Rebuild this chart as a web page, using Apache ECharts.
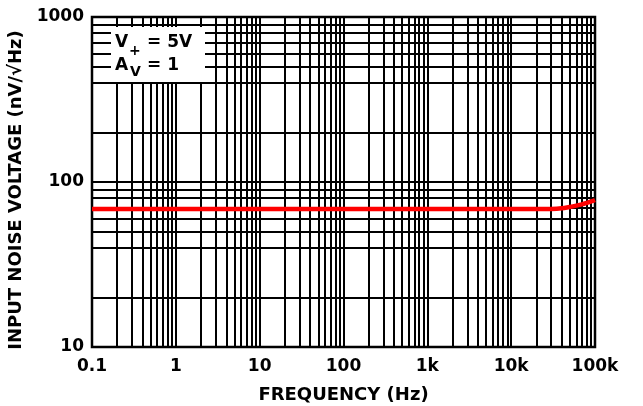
<!DOCTYPE html>
<html>
<head>
<meta charset="utf-8">
<script src="https://cdn.jsdelivr.net/npm/echarts@6/dist/echarts.min.js"></script>
<style>
html,body{margin:0;padding:0;background:#fff;}
#chart{width:643px;height:406px;}
</style>
</head>
<body>
<div id="chart"></div>
<script>
// ---- data ----
var frequencyHz = [0.1, 1, 10, 100, 1000, 10000, 20000, 30000, 40000, 50000, 60000, 70000, 80000, 90000, 100000];
var noiseNvRtHz = [68.5, 68.5, 68.5, 68.6, 68.6, 68.6, 68.6, 68.7, 69.3, 70.6, 71.9, 73.2, 74.7, 76.2, 77.8];

var xTickValues = [0.1, 1, 10, 100, 1000, 10000, 100000];
var xTickLabels = ['0.1', '1', '10', '100', '1k', '10k', '100k'];
var yTickValues = [10, 100, 1000];
var yTickLabels = ['10', '100', '1000'];

var xMinorGrid = [0.2,0.3,0.4,0.5,0.6,0.7,0.8,0.9,
                  2,3,4,5,6,7,8,9,
                  20,30,40,50,60,70,80,90,
                  200,300,400,500,600,700,800,900,
                  2000,3000,4000,5000,6000,7000,8000,9000,
                  20000,30000,40000,50000,60000,70000,80000,90000];
var yMinorGrid = [20,40,50,60,70,80,90,200,400,500,600,700,800,900];

var xAxisTitle = 'FREQUENCY (Hz)';
var yAxisTitle = 'INPUT NOISE VOLTAGE (nV/\u221AHz)';

// ---- chart ----
function lookup(vals, labels, v) {
  for (var i = 0; i < vals.length; i++) {
    if (Math.abs(Math.log10(v) - Math.log10(vals[i])) < 1e-6) return labels[i];
  }
  return '';
}
var FONT = 'DejaVu Sans';
var gridLine = {color: '#000', width: 2, type: 'solid'};
var markData = [];
xMinorGrid.forEach(function (v) { markData.push({xAxis: v}); });
yMinorGrid.forEach(function (v) { markData.push({yAxis: v}); });

var chart = echarts.init(document.getElementById('chart'), null, {renderer: 'canvas'});
chart.setOption({
  animation: false,
  backgroundColor: '#fff',
  grid: {left: 92, right: 48, top: 17, bottom: 59, containLabel: false, outerBoundsMode: 'none',
         show: true, borderColor: '#000', borderWidth: 2.5, backgroundColor: 'transparent', z: 3},
  xAxis: {
    type: 'log', logBase: 10, min: 0.1, max: 100000, splitNumber: 6, interval: 1,
    name: xAxisTitle, nameLocation: 'middle', nameGap: 39,
    nameTextStyle: {fontFamily: FONT, fontWeight: 'bold', fontSize: 18, color: '#000'},
    axisLine: {show: false},
    axisTick: {show: false},
    axisLabel: {
      margin: 11, fontFamily: FONT, fontWeight: 'bold', fontSize: 17, color: '#000',
      formatter: function (v) { return lookup(xTickValues, xTickLabels, v); }
    },
    splitLine: {show: true, lineStyle: gridLine}
  },
  yAxis: {
    type: 'log', logBase: 10, min: 10, max: 1000, splitNumber: 2, interval: 1,
    name: yAxisTitle, nameLocation: 'middle', nameGap: 60, nameRotate: 90,
    nameTextStyle: {fontFamily: FONT, fontWeight: 'bold', fontSize: 18, color: '#000', padding: [0, 16, 0, 0]},
    axisLine: {show: false},
    axisTick: {show: false},
    axisLabel: {
      margin: 8, fontFamily: FONT, fontWeight: 'bold', fontSize: 17, color: '#000',
      formatter: function (v) { return lookup(yTickValues, yTickLabels, v); }
    },
    splitLine: {show: true, lineStyle: gridLine}
  },
  series: [
    {
      type: 'line', data: [], silent: true, z: 1,
      markLine: {
        silent: true, symbol: 'none', animation: false,
        label: {show: false},
        lineStyle: gridLine,
        emphasis: {disabled: true},
        data: markData
      }
    },
    {
      type: 'line', z: 5,
      data: frequencyHz.map(function (f, i) { return [f, noiseNvRtHz[i]]; }),
      showSymbol: false, smooth: 0.3,
      lineStyle: {color: '#ff0000', width: 4.5},
      clip: false
    }
  ],
  graphic: [
    {type: 'rect', z: 50, shape: {x: 111, y: 27, width: 94, height: 55}, style: {fill: '#fff'}},
    {type: 'text', z: 51, x: 115, y: 43, style: {text: 'V', font: 'bold 17px "DejaVu Sans"', fill: '#000', verticalAlign: 'middle'}},
    {type: 'text', z: 51, x: 129, y: 51, style: {text: '+', font: 'bold 14px "DejaVu Sans"', fill: '#000', verticalAlign: 'middle'}},
    {type: 'text', z: 51, x: 147, y: 43, style: {text: '= 5V', font: 'bold 17px "DejaVu Sans"', fill: '#000', verticalAlign: 'middle'}},
    {type: 'text', z: 51, x: 115, y: 66, style: {text: 'A', font: 'bold 17px "DejaVu Sans"', fill: '#000', verticalAlign: 'middle'}},
    {type: 'text', z: 51, x: 130, y: 72, style: {text: 'V', font: 'bold 14px "DejaVu Sans"', fill: '#000', verticalAlign: 'middle'}},
    {type: 'text', z: 51, x: 147, y: 66, style: {text: '= 1', font: 'bold 17px "DejaVu Sans"', fill: '#000', verticalAlign: 'middle'}}
  ]
});
</script>
</body>
</html>
